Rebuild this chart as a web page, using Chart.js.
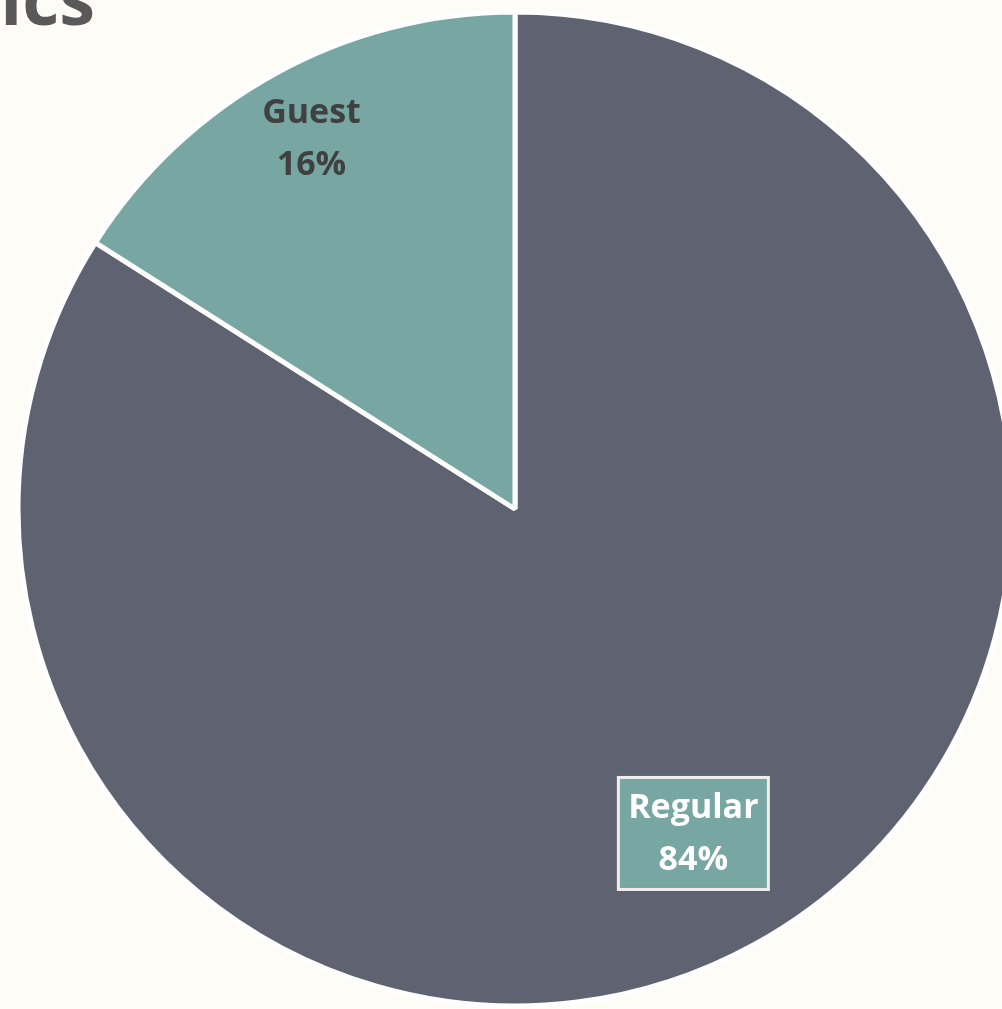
<!DOCTYPE html>
<html>
<head>
<meta charset="utf-8">
<script src="https://cdn.jsdelivr.net/npm/chart.js@4.4.0/dist/chart.umd.min.js"></script>
<style>
  html, body { margin: 0; padding: 0; background: #fdfcf7; }
  #wrap { width: 1002px; height: 1009px; position: relative; overflow: hidden; }
</style>
</head>
<body>
<div id="wrap"><canvas id="pieChart"></canvas></div>
<script>
// данные
const categories = ['Regular', 'Guest'];
const shares = [84, 16];
const sliceColors = ['#5f6271', '#78a6a3'];
const titleText = 'Statistics';

// подписи на секторах: своё расстояние от центра для каждого
const labelRadius = [0.745, 0.85];

const sliceLabels = {
    id: 'sliceLabels',
    afterDatasetsDraw(chart) {
        const ctx = chart.ctx;
        const meta = chart.getDatasetMeta(0);
        ctx.save();
        ctx.font = 'bold 34px "Open Sans"';
        ctx.textAlign = 'center';
        ctx.textBaseline = 'middle';
        meta.data.forEach((arc, i) => {
            const mid = (arc.startAngle + arc.endAngle) / 2;
            const r = arc.outerRadius * labelRadius[i];
            const x = arc.x + Math.cos(mid) * r;
            const y = arc.y + Math.sin(mid) * r;
            const lines = [categories[i], shares[i] + '%'];
            if (i === 0) {
                // рамка с заливкой для большого сектора
                const w = 150, h = 112;
                ctx.fillStyle = '#78a6a3';
                ctx.fillRect(x - w / 2, y - h / 2, w, h);
                ctx.strokeStyle = '#eeeeee';
                ctx.lineWidth = 3;
                ctx.strokeRect(x - w / 2, y - h / 2, w, h);
                ctx.fillStyle = '#ffffff';
            } else {
                ctx.fillStyle = '#404040';
            }
            ctx.fillText(lines[0], x, y - 25);
            ctx.fillText(lines[1], x, y + 27);
        });
        ctx.restore();
    }
};

const topTitle = {
    id: 'topTitle',
    afterDraw(chart) {
        const ctx = chart.ctx;
        ctx.save();
        ctx.font = 'bold 72px "Open Sans"';
        ctx.fillStyle = '#595959';
        ctx.textAlign = 'right';
        ctx.textBaseline = 'alphabetic';
        ctx.fillText(titleText, 95, 25);
        ctx.restore();
    }
};

const ctx = document.getElementById('pieChart').getContext('2d');
new Chart(ctx, {
    type: 'pie',
    data: {
        labels: categories,
        datasets: [{
            data: shares,
            backgroundColor: sliceColors,
            borderColor: '#ffffff',
            borderWidth: 5,
            radius: 497
        }]
    },
    options: {
        responsive: true,
        maintainAspectRatio: false,
        animation: false,
        layout: { padding: { left: 28, right: 0, top: 9, bottom: 0 } },
        plugins: {
            legend: { display: false },
            tooltip: { enabled: false }
        }
    },
    plugins: [sliceLabels, topTitle]
});
</script>
</body>
</html>
